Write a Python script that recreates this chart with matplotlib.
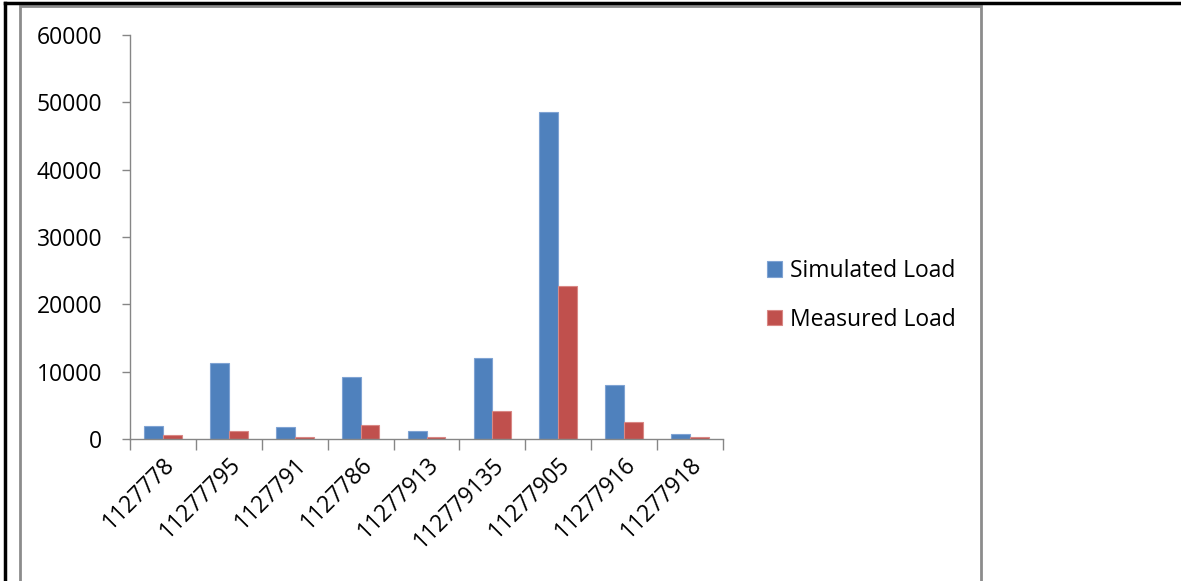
import matplotlib.pyplot as plt
from matplotlib.lines import Line2D
from matplotlib.patches import Rectangle
import numpy as np

plt.rcParams['font.family'] = ['Open Sans', 'DejaVu Sans']

categories = ['1127778', '11277795', '1127791', '1127786', '11277913',
              '112779135', '11277905', '11277916', '11277918']
simulated = [1900, 11300, 1800, 9200, 1200, 12000, 48600, 8000, 800]
measured = [600, 1200, 300, 2100, 300, 4200, 22700, 2500, 300]

blue = '#4F81BD'
red = '#C0504D'
grey = '#868686'

fig = plt.figure(figsize=(11.81, 5.81), dpi=100)
ax = fig.add_axes([130 / 1181, 1 - 439 / 581, (723 - 130) / 1181, (439 - 35) / 581])

x = np.arange(len(categories))
w = 0.285
ax.bar(x - w / 2, simulated, w, color=blue, edgecolor='#7FA3D3', linewidth=0.8,
       label='Simulated Load')
ax.bar(x + w / 2, measured, w, color=red, edgecolor='#D98885', linewidth=0.8,
       label='Measured Load')

ax.set_xlim(-0.5, len(categories) - 0.5)
ax.set_ylim(0, 60000)
ax.set_yticks(range(0, 60001, 10000))
ax.tick_params(axis='y', labelsize=16.5, length=6, color=grey, width=1, pad=14)

ax.set_xticks(np.arange(-0.5, len(categories), 1))
ax.set_xticklabels([])
ax.set_xticks(x, categories, minor=True)
ax.tick_params(axis='x', which='major', length=8, color=grey, width=1)
ax.tick_params(axis='x', which='minor', length=0, labelsize=16.5, pad=10)
for lab in ax.get_xticklabels(minor=True):
    lab.set_rotation(45)
    lab.set_ha('right')
    lab.set_rotation_mode('anchor')

for s in ['top', 'right']:
    ax.spines[s].set_visible(False)
for s in ['left', 'bottom']:
    ax.spines[s].set_color(grey)
    ax.spines[s].set_linewidth(1)

ax.legend(loc='center left', bbox_to_anchor=(746 / 1181, 1 - 295.5 / 581),
          bbox_transform=fig.transFigure, frameon=False, fontsize=16.5,
          handlelength=0.65, handleheight=0.65, handletextpad=0.35,
          labelspacing=1.08)

# page / chart frame
fig.add_artist(Rectangle((20 / 1181, -0.05), (981 - 20) / 1181, 1.05 - 6 / 581,
                         transform=fig.transFigure, fill=False,
                         edgecolor='#8C8C8C', linewidth=2))
fig.add_artist(Line2D([5 / 1181, 5 / 1181], [0, 1 - 3 / 581],
                      transform=fig.transFigure, color='black', linewidth=2.5))
fig.add_artist(Line2D([5 / 1181, 1], [1 - 3 / 581, 1 - 3 / 581],
                      transform=fig.transFigure, color='black', linewidth=2.5))

fig.savefig('out.png', dpi=100)
